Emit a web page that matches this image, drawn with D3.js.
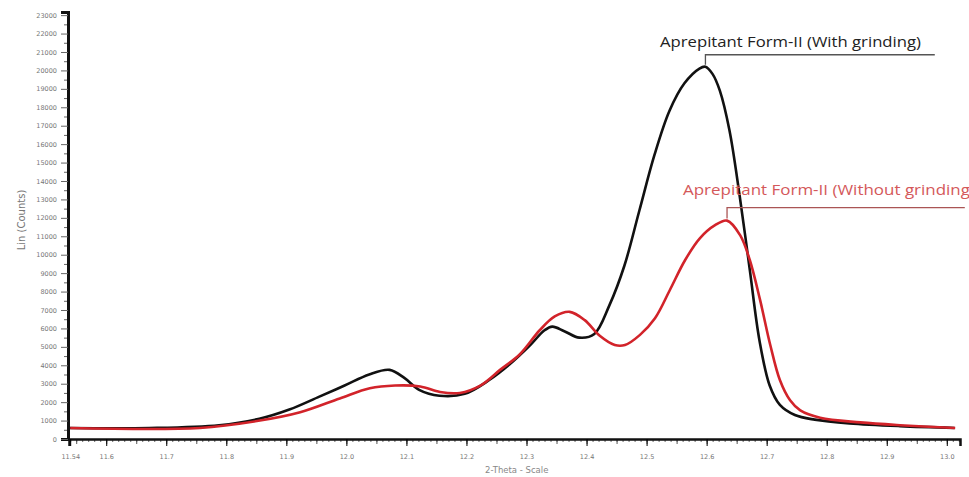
<!DOCTYPE html>
<html>
<head>
<meta charset="utf-8">
<script src="https://cdn.jsdelivr.net/npm/d3@7"></script>
<style>
  body { margin: 0; background: #fff; }
  svg { display: block; }
</style>
</head>
<body>
<script>
'use strict';

// 2-theta positions and counts
const blackTheta = [11.538, 11.672, 11.788, 11.855, 11.905, 11.955, 11.997, 12.038, 12.072, 12.097,
  12.122, 12.155, 12.197, 12.238, 12.272, 12.305, 12.330, 12.343, 12.363, 12.388, 12.413, 12.438,
  12.463, 12.488, 12.513, 12.538, 12.563, 12.588, 12.598, 12.610, 12.622, 12.638, 12.655, 12.672,
  12.688, 12.705, 12.722, 12.747, 12.780, 12.838, 12.922, 13.013];
const blackCounts = [600, 600, 750, 1100, 1600, 2300, 2900, 3500, 3750, 3300,
  2650, 2350, 2450, 3200, 4050, 5050, 5900, 6100, 5850, 5500, 5700, 7250,
  9400, 12400, 15400, 17800, 19300, 20100, 20200, 19800, 18900, 16750, 13200, 9150,
  5350, 2900, 1850, 1300, 1050, 850, 700, 600];

const redTheta = [11.540, 11.756, 11.856, 11.923, 11.989, 12.039, 12.081, 12.123, 12.156, 12.189,
  12.223, 12.256, 12.289, 12.322, 12.347, 12.372, 12.397, 12.422, 12.447, 12.464, 12.489, 12.514,
  12.539, 12.564, 12.589, 12.614, 12.634, 12.656, 12.672, 12.689, 12.706, 12.722, 12.739, 12.756,
  12.789, 12.856, 12.922, 13.014];
const redCounts = [600, 600, 1000, 1450, 2200, 2750, 2900, 2850, 2550, 2500,
  2900, 3750, 4600, 5900, 6650, 6900, 6450, 5600, 5100, 5100, 5650, 6550,
  8100, 9700, 10900, 11600, 11850, 11050, 9700, 7550, 5100, 3200, 2100, 1550,
  1150, 900, 750, 600];

const xTickValues = [11.54, 11.6, 11.7, 11.8, 11.9, 12.0, 12.1, 12.2, 12.3, 12.4, 12.5, 12.6, 12.7, 12.8, 12.9, 13.0];
const xTickLabels = ['11.54', '11.6', '11.7', '11.8', '11.9', '12.0', '12.1', '12.2', '12.3', '12.4',
  '12.5', '12.6', '12.7', '12.8', '12.9', '13.0'];
const yTickValues = d3.range(0, 23001, 1000);

const seriesNames = ['Aprepitant Form-II (With grinding)', 'Aprepitant Form-II (Without grinding)'];

(function() {
  const width = 969, height = 477;
  const svg = d3.select('body').append('svg')
    .attr('width', width)
    .attr('height', height);

  const xScale = d3.scaleLinear().domain([11.538, 13.022]).range([69, 960]);
  const yScale = d3.scaleLinear().domain([0, 23170]).range([439, 12]);

  // x axis: minor, medium and major ticks
  const minorX = d3.range(11.54, 13.021, 0.01).map(v => +v.toFixed(2));
  svg.append('g')
    .attr('transform', 'translate(0,439)')
    .call(d3.axisBottom(xScale).tickValues(minorX).tickSize(3).tickFormat(''))
    .call(g => g.select('.domain').remove())
    .selectAll('line').attr('stroke', '#666');
  const midX = d3.range(11.55, 13.021, 0.05).map(v => +v.toFixed(2));
  svg.append('g')
    .attr('transform', 'translate(0,439)')
    .call(d3.axisBottom(xScale).tickValues(midX).tickSize(5).tickFormat(''))
    .call(g => g.select('.domain').remove())
    .selectAll('line').attr('stroke', '#555');

  const xAxis = svg.append('g')
    .attr('transform', 'translate(0,439)')
    .call(d3.axisBottom(xScale).tickValues(xTickValues).tickSize(7)
      .tickFormat((d, i) => xTickLabels[i]));
  xAxis.select('.domain').attr('stroke', '#111').attr('stroke-width', 2.5);
  xAxis.selectAll('.tick text').attr('font-size', '6.5px').attr('dy', '1.6em')
    .style('font-family', 'DejaVu Sans').attr('fill', '#777');

  // y axis with minor ticks
  svg.append('g')
    .attr('transform', 'translate(68,0)')
    .call(d3.axisLeft(yScale).tickValues(d3.range(500, 23001, 1000)).tickSize(4).tickFormat(''))
    .call(g => g.select('.domain').remove())
    .selectAll('line').attr('stroke', '#666');
  const yAxis = svg.append('g')
    .attr('transform', 'translate(68,0)')
    .call(d3.axisLeft(yScale).tickValues(yTickValues).tickSize(7).tickPadding(4)
      .tickFormat(d3.format('d')));
  yAxis.select('.domain').attr('stroke', '#111').attr('stroke-width', 3);
  yAxis.selectAll('.tick line').attr('stroke', '#666');
  yAxis.selectAll('.tick text').attr('font-size', '6.5px')
    .style('font-family', 'DejaVu Sans').attr('fill', '#777');

  // axis titles
  svg.append('text')
    .attr('transform', 'translate(25,220)rotate(-90)')
    .attr('text-anchor', 'middle')
    .style('font-family', 'DejaVu Sans')
    .style('font-size', '10px')
    .attr('fill', '#777')
    .text('Lin (Counts)');
  svg.append('text')
    .attr('x', 485)
    .attr('y', 473)
    .style('font-family', 'DejaVu Sans')
    .style('font-size', '8.5px')
    .attr('fill', '#888')
    .text('2-Theta - Scale');

  const line = d3.line()
    .x(d => xScale(d[0]))
    .y(d => yScale(d[1]))
    .curve(d3.curveCatmullRom.alpha(0.5));

  const blackData = blackTheta.map((t, i) => [t, blackCounts[i]]);
  const redData = redTheta.map((t, i) => [t, redCounts[i]]);

  svg.append('path')
    .attr('d', line(blackData))
    .attr('fill', 'none')
    .attr('stroke', '#111')
    .attr('stroke-width', 2.6);
  svg.append('path')
    .attr('d', line(redData))
    .attr('fill', 'none')
    .attr('stroke', '#d2232a')
    .attr('stroke-width', 2.6);

  // peak markers and labels
  function peakLabel(data, name, color, textColor, lineEnd, textX, textY, lift, textLen) {
    const peak = data.reduce((a, b) => (b[1] > a[1] ? b : a));
    const px = xScale(peak[0]);
    const py = yScale(peak[1]) - 2;
    svg.append('path')
      .attr('d', `M${px},${py}V${py - lift}H${xScale(lineEnd)}`)
      .attr('fill', 'none')
      .attr('stroke', color)
      .attr('stroke-width', 1.3);
    svg.append('text')
      .attr('x', textX)
      .attr('y', textY)
      .attr('textLength', textLen)
      .attr('lengthAdjust', 'spacingAndGlyphs')
      .style('font-family', 'Open Sans')
      .style('font-size', '14px')
      .attr('fill', textColor)
      .text(name);
  }
  peakLabel(blackData, seriesNames[0], '#555', '#222', 12.98, 660, 47, 10, 261);
  peakLabel(redData, seriesNames[1], '#a55', '#d4585a', 13.03, 683, 195, 11, 292);
})();
</script>
</body>
</html>
